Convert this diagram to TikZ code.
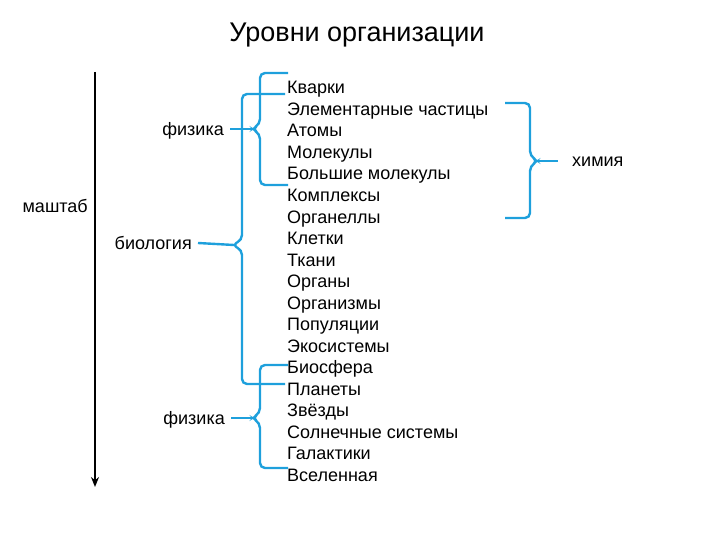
\documentclass[tikz,border=0pt]{standalone}
\usepackage{fontspec}
\setmainfont{Liberation Sans}
\usetikzlibrary{arrows.meta}
\begin{document}
\begin{tikzpicture}[x=1pt,y=-1pt,
  br/.style={draw={rgb,255:red,30;green,160;blue,220},line width=2.4pt,rounded corners=5pt},
  lab/.style={font=\fontsize{18}{18}\selectfont,inner sep=0pt,anchor=base east},
  item/.style={font=\fontsize{18}{18}\selectfont,inner sep=0pt,anchor=base west}]
\useasboundingbox (0,0) rectangle (720,540);
\node[font=\fontsize{27}{27}\selectfont] (title) at (357,35) {Уровни организации};
\coordinate (atop) at (95,72);
\coordinate (abot) at (95,487);
\draw[line width=2.5pt,-{Stealth[length=10pt,width=8pt]}] (atop) -- (abot);
\node[lab] (scale) at (88,213) {маштаб};
\node[lab] (ph1) at (224,136) {физика};
\node[lab] (bio) at (192,249) {биология};
\node[lab] (ph2) at (225,424) {физика};
\node[lab,anchor=base west] (chem) at (572,167) {химия};
\foreach \t [count=\i] in {Кварки,Элементарные частицы,Атомы,Молекулы,Большие молекулы,Комплексы,Органеллы,Клетки,Ткани,Органы,Организмы,Популяции,Экосистемы,Биосфера,Планеты,Звёзды,Солнечные системы,Галактики,Вселенная}
  \node[item] (i\i) at (287,{94+(\i-1)*21.5}) {\t};
% physics top bracket
\draw[br] (288,73) -- (260,73) -- (260,124) -- (252,129) -- (260,134) -- (260,185) -- (288,185);
\draw[br,rounded corners=0pt] (230,129) -- (254,129);
% biology bracket
\draw[br] (285,94) -- (242,94) -- (242,240) -- (232,245) -- (242,250) -- (242,384) -- (285,384);
\draw[br,rounded corners=0pt] (198,243) -- (234,245);
% physics bottom bracket
\draw[br] (288,365) -- (260,365) -- (260,413) -- (252,418) -- (260,423) -- (260,468) -- (288,468);
\draw[br,rounded corners=0pt] (231,418) -- (254,418);
% chemistry bracket
\draw[br] (505,103) -- (530,103) -- (530,156) -- (538,161) -- (530,166) -- (530,218) -- (505,218);
\draw[br,rounded corners=0pt] (536,161) -- (558,161);
\end{tikzpicture}
\end{document}
